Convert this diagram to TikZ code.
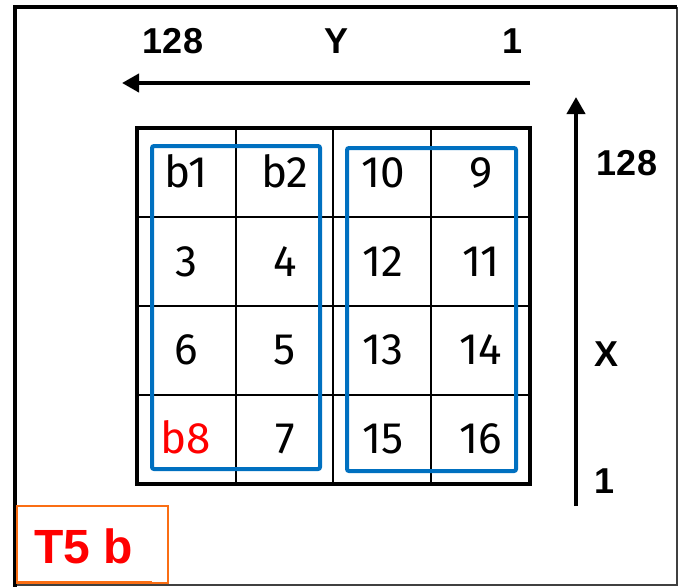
\documentclass[tikz,border=0pt]{standalone}
\usepackage{fontspec}
\setmainfont{Liberation Sans}
\newfontfamily\cellfont{Fira Sans}
\usetikzlibrary{arrows.meta}
\definecolor{gblue}{RGB}{0,112,192}
\definecolor{gorange}{RGB}{250,110,20}
\definecolor{gred}{RGB}{255,0,0}
\begin{document}
\begin{tikzpicture}[x=1pt,y=-1pt,
  cell/.style={font=\cellfont\fontsize{44}{48}\selectfont, inner sep=0pt, anchor=base},
  axlabel/.style={font=\bfseries\fontsize{36}{40}\selectfont, inner sep=0pt, anchor=base},
  framethick/.style={line width=4pt, black},
  framethin/.style={line width=1.5pt, black!75},
  gridouter/.style={line width=4.5pt, black},
  gridinner/.style={line width=2pt, black},
  bluebox/.style={line width=4pt, gblue, rounded corners=2pt},
  axarrow/.style={line width=4pt, -{Triangle[length=17pt,width=18pt]}},
  tagbox/.style={draw=gorange, line width=1.5pt, minimum width=151pt, minimum height=77pt, inner sep=0pt},
  tagtext/.style={font=\bfseries\fontsize{48}{52}\selectfont, text=gred, inner sep=0pt, anchor=base}
]
\useasboundingbox (0,0) rectangle (679,587);
\fill[white] (0,0) rectangle (679,587);
% outer frame
\draw[framethin] (15,585) -- (677,585) -- (677,7);
\draw[framethick] (677,7) -- (15,7) -- (15,587);
% grid
\foreach \x in {236,333,431} \draw[gridinner] (\x,128) -- (\x,484);
\foreach \y in {216.5,306,395} \draw[gridinner] (137,\y) -- (530,\y);
\draw[gridouter] (137,128) rectangle (530,484);
% blue groups
\draw[bluebox] (152,146) rectangle (320,469);
\draw[bluebox] (347,148) rectangle (516,471);
% cells
\node[cell] (c11) at (186,187) {b1};
\node[cell] (c12) at (285,187) {b2};
\node[cell] (c13) at (383,187) {10};
\node[cell] (c14) at (481,187) {9};
\node[cell] (c21) at (186,276) {3};
\node[cell] (c22) at (285,276) {4};
\node[cell] (c23) at (383,276) {12};
\node[cell] (c24) at (481,276) {11};
\node[cell] (c31) at (186,364.5) {6};
\node[cell] (c32) at (285,364.5) {5};
\node[cell] (c33) at (383,364.5) {13};
\node[cell] (c34) at (481,364.5) {14};
\node[cell, text=gred] (c41) at (186,453) {b8};
\node[cell] (c42) at (285,453) {7};
\node[cell] (c43) at (383,453) {15};
\node[cell] (c44) at (481,453) {16};
% Y axis (horizontal)
\coordinate (ystart) at (530,83);
\coordinate (yend) at (122,83);
\draw[axarrow] (ystart) -- (yend);
\node[axlabel] (y128) at (173,53) {128};
\node[axlabel] (ylab) at (337,53) {Y};
\node[axlabel] (y1) at (513,53) {1};
% X axis (vertical)
\coordinate (xstart) at (576,506);
\coordinate (xend) at (576,97);
\draw[axarrow] (xstart) -- (xend);
\node[axlabel] (x128) at (627,175) {128};
\node[axlabel] (xlab) at (606,366) {X};
\node[axlabel] (x1) at (604,493) {1};
% tag
\node[tagbox] (tag) at (92.5,544.5) {};
\node[tagtext] (tagt) at (84,563) {T5 b};
\draw[gorange, line width=3pt] (17,582) -- (152,582);
\end{tikzpicture}
\end{document}
